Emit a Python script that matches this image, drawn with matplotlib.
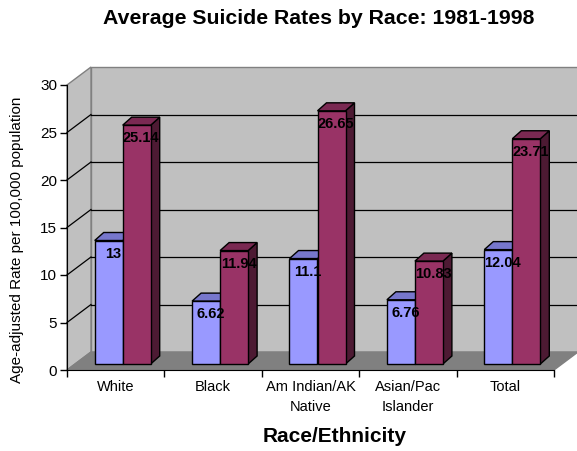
import numpy as np
import matplotlib.pyplot as plt
from matplotlib.patches import Polygon, Rectangle

plt.rcParams['font.family'] = ['Liberation Sans', 'DejaVu Sans']

#data
categories = ["White", "Black", "Am Indian/AK\nNative", "Asian/Pac\nIslander", "Total"]
series_low = [13, 6.62, 11.1, 6.76, 12.04]
series_high = [25.14, 11.94, 26.65, 10.83, 23.71]

#layout (pixels of a 577x451 figure)
W, H = 577, 451
X0, X1 = 67, 554      # front x axis
Y0, Y1 = 370, 85      # front y axis, value 0 and 30
YMAX = 30
n = len(categories)

fig = plt.figure(figsize=(W / 100, H / 100), dpi=100)
ax = fig.add_axes([X0 / W, (H - Y0) / H, (X1 - X0) / W, (Y0 - Y1) / H])
ax.set_xlim(0, n)
ax.set_ylim(0, YMAX)

# pixel -> data unit scale
sx = n / (X1 - X0)
sy = YMAX / (Y0 - Y1)

wall_dx, wall_dy = 24 * sx, 18 * sy
bar_ox, bar_oy = 7 * sx, 6 * sy
bar_dx, bar_dy = 9 * sx, 8 * sy
bw = 0.2875

wall_c = "#C0C0C0"
floor_c = "#808080"
edge_gray = "#808080"

#walls and floor
side = Polygon([(0, 0), (0, YMAX), (wall_dx, YMAX + wall_dy), (wall_dx, wall_dy)],
               closed=True, fc=wall_c, ec=edge_gray, lw=1, clip_on=False, zorder=0)
back = Rectangle((wall_dx, wall_dy), n, YMAX, fc=wall_c, ec=edge_gray, lw=1,
                 clip_on=False, zorder=0)
floor = Polygon([(0, 0), (n, 0), (n + wall_dx, wall_dy), (wall_dx, wall_dy)],
                closed=True, fc=floor_c, ec=edge_gray, lw=1, clip_on=False, zorder=1)
ax.add_patch(back)
ax.add_patch(side)

#gridlines
for v in range(5, YMAX, 5):
    ax.plot([wall_dx, n + wall_dx], [v + wall_dy, v + wall_dy], color="black", lw=0.9,
            clip_on=False, zorder=0.5)
    ax.plot([0, wall_dx], [v, v + wall_dy], color="black", lw=0.9, clip_on=False, zorder=0.5)
ax.add_patch(floor)

#bars
colors = [("#9999FF", "#7777CC", "#5C5C99"), ("#993366", "#7A2952", "#4D1A33")]
z = 2
for i in range(n):
    for j, vals in enumerate([series_low, series_high]):
        v = vals[i]
        fc, tc, sc = colors[j]
        x0 = i + 0.5 - bw + j * bw + bar_ox
        y0 = bar_oy
        front = Rectangle((x0, y0), bw, v, fc=fc, ec="black", lw=1, clip_on=False, zorder=z)
        top = Polygon([(x0, y0 + v), (x0 + bw, y0 + v), (x0 + bw + bar_dx, y0 + v + bar_dy),
                       (x0 + bar_dx, y0 + v + bar_dy)], closed=True, fc=tc, ec="black",
                      lw=1, clip_on=False, zorder=z)
        sd = Polygon([(x0 + bw, y0), (x0 + bw + bar_dx, y0 + bar_dy),
                      (x0 + bw + bar_dx, y0 + v + bar_dy), (x0 + bw, y0 + v)],
                     closed=True, fc=sc, ec="black", lw=1, clip_on=False, zorder=z)
        ax.add_patch(sd)
        ax.add_patch(top)
        ax.add_patch(front)
        ax.text(x0 + bw / 2 + bar_dx / 2, y0 + v - 1.4, f"{v:g}", ha="center", va="center",
                fontsize=10.5, fontweight="bold", color="black", zorder=100)
        z += 1

#axes styling
for s in ["top", "right"]:
    ax.spines[s].set_visible(False)
ax.spines["left"].set_zorder(50)
ax.spines["bottom"].set_zorder(50)
ax.set_facecolor("none")
ax.set_yticks(range(0, YMAX + 1, 5))
ax.tick_params(axis="y", direction="out", length=5, width=1, labelsize=11, pad=2)
ax.set_xticks(np.arange(n + 1))
ax.set_xticklabels([])
ax.set_xticks(np.arange(n) + 0.5, minor=True)
ax.set_xticklabels(categories, minor=True, fontsize=10.5, linespacing=1.6)
ax.tick_params(axis="x", which="major", direction="out", length=5, width=1)
ax.tick_params(axis="x", which="minor", length=0, pad=7)

fig.text(319 / W, 1 - 18 / H, "Average Suicide Rates by Race: 1981-1998", ha="center",
         va="center", fontsize=15.3, fontweight="bold")
fig.text(335 / W, 1 - 436 / H, "Race/Ethnicity", ha="center", va="center", fontsize=15,
         fontweight="bold")
fig.text(17 / W, 1 - 240 / H, "Age-adjusted Rate per 100,000 population", ha="center",
         va="center", rotation=90, fontsize=11)

fig.savefig("out.png", dpi=100)
